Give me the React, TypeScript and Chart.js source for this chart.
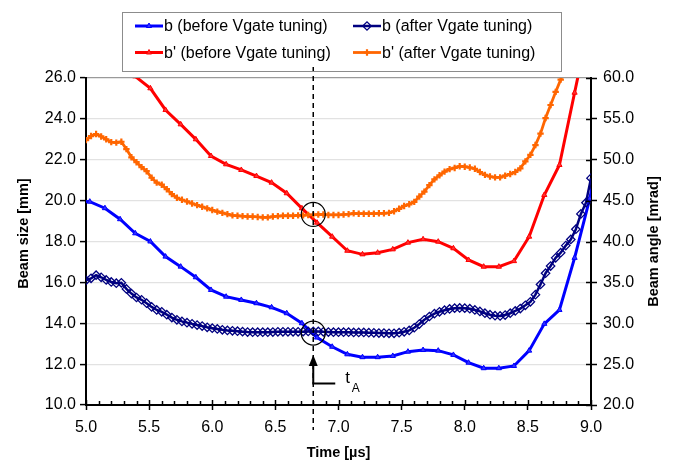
import React, { useEffect, useRef } from 'react';
import { Chart, registerables } from 'chart.js';
import { drawPoint } from 'chart.js/helpers';

Chart.register(...registerables);

// ---- data ----
const beforeTimes = [4.91, 5.03, 5.15, 5.27, 5.39, 5.51, 5.63, 5.75, 5.87, 5.99, 6.11, 6.23, 6.35, 6.47, 6.59, 6.71, 6.83, 6.95, 7.07, 7.19, 7.31, 7.43, 7.55, 7.67, 7.79, 7.91, 8.03, 8.15, 8.27, 8.39, 8.51, 8.63, 8.75, 8.87, 8.99, 9.11];
const bBefore = [20.0, 19.95, 19.63, 19.09, 18.4, 18.0, 17.26, 16.77, 16.25, 15.63, 15.3, 15.14, 14.98, 14.78, 14.49, 14.0, 13.3, 12.85, 12.48, 12.34, 12.34, 12.4, 12.61, 12.69, 12.66, 12.45, 12.07, 11.8, 11.8, 11.91, 12.66, 13.97, 14.65, 17.2, 20.1, 23.5];
const bpBefore = [72, 68, 65, 62, 60.2, 58.74, 56.09, 54.33, 52.5, 50.46, 49.44, 48.75, 48.01, 47.2, 45.9, 44.06, 42.3, 40.59, 38.87, 38.43, 38.63, 39.04, 39.86, 40.27, 39.98, 39.17, 37.74, 36.92, 36.92, 37.6, 40.59, 45.69, 49.36, 58.2, 67, 76];

const afterTimes = [5.00, 5.04, 5.08, 5.12, 5.16, 5.20, 5.24, 5.28, 5.32, 5.36, 5.40, 5.44, 5.48, 5.52, 5.56, 5.60, 5.64, 5.68, 5.72, 5.76, 5.80, 5.84, 5.88, 5.92, 5.96, 6.00, 6.04, 6.08, 6.12, 6.16, 6.20, 6.24, 6.28, 6.32, 6.36, 6.40, 6.44, 6.48, 6.52, 6.56, 6.60, 6.64, 6.68, 6.72, 6.76, 6.80, 6.84, 6.88, 6.92, 6.96, 7.00, 7.04, 7.08, 7.12, 7.16, 7.20, 7.24, 7.28, 7.32, 7.36, 7.40, 7.44, 7.48, 7.52, 7.56, 7.60, 7.64, 7.68, 7.72, 7.76, 7.80, 7.84, 7.88, 7.92, 7.96, 8.00, 8.04, 8.08, 8.12, 8.16, 8.20, 8.24, 8.28, 8.32, 8.36, 8.40, 8.44, 8.48, 8.52, 8.56, 8.60, 8.64, 8.68, 8.72, 8.76, 8.80, 8.84, 8.88, 8.92, 8.96, 9.00];
const bAfter = [
  16.1, 16.2, 16.35, 16.25, 16.12, 16.02, 15.96, 15.98, 15.68, 15.45,
  15.26, 15.15, 14.98, 14.8, 14.65, 14.56, 14.42, 14.28, 14.17, 14.09,
  14.03, 13.97, 13.91, 13.86, 13.8, 13.76, 13.72, 13.68, 13.65, 13.63,
  13.61, 13.59, 13.57, 13.56, 13.56, 13.56, 13.56, 13.57, 13.58, 13.58,
  13.58, 13.58, 13.58, 13.59, 13.6, 13.6, 13.6, 13.58, 13.57, 13.56,
  13.56, 13.56, 13.56, 13.55, 13.55, 13.55, 13.54, 13.53, 13.52, 13.52,
  13.51, 13.51, 13.54, 13.58, 13.65, 13.78, 13.96, 14.17, 14.33, 14.47,
  14.56, 14.64, 14.7, 14.74, 14.75, 14.74, 14.71, 14.65, 14.58, 14.49,
  14.42, 14.37, 14.36, 14.4, 14.49, 14.6, 14.72, 14.88, 15.05, 15.4,
  15.9, 16.45, 16.8, 17.2, 17.45, 17.8, 18.1, 18.6, 19.35, 19.9,
  21.1,
];
const bpAfter = [
  52.4, 52.9, 53.15, 52.85, 52.5, 52.15, 52.1, 52.2, 51.3, 50.3,
  49.7, 49.1, 48.6, 47.8, 47.2, 46.95, 46.4, 45.8, 45.35, 45.1,
  44.9, 44.65, 44.45, 44.25, 44.05, 43.85, 43.65, 43.5, 43.35, 43.2,
  43.15, 43.1, 43.05, 43.05, 43.0, 42.95, 42.95, 43.05, 43.1, 43.15,
  43.15, 43.15, 43.2, 43.2, 43.25, 43.25, 43.3, 43.3, 43.25, 43.25,
  43.25, 43.3, 43.35, 43.45, 43.4, 43.4, 43.4, 43.4, 43.45, 43.45,
  43.5, 43.7, 44.0, 44.35, 44.55, 44.85, 45.5, 46.1, 46.9, 47.6,
  48.1, 48.55, 48.85, 49.0, 49.2, 49.15, 49.05, 48.9, 48.5, 48.15,
  47.95, 47.85, 47.85, 48.05, 48.25, 48.5, 48.95, 49.8, 50.6, 51.8,
  53.2, 55.1, 56.7, 58.3, 59.8, 61.4, 63.0, 64.6, 66.2, 67.8,
  69.4,
];

const seriesLabels = ['b (before Vgate tuning)', 'b (after Vgate tuning)', "b' (before Vgate tuning)", "b' (after Vgate tuning)"];
const markTime = 6.8;
const circleValues = [19.33, 13.52]; // left-axis values of the two circled crossings
const xRange = [5.0, 9.0];
const yRange = [10.0, 26.0];
const y1Range = [20.0, 60.0];
const xTitle = 'Time [µs]';
const yTitle = 'Beam size [mm]';
const y1Title = 'Beam angle [mrad]';

const FONT = "'Liberation Sans', Arial, sans-serif";

const toXY = (xs: number[], ys: number[]) => xs.map((x, i) => ({ x, y: ys[i] }));

const overlayPlugin = {
  id: 'overlay',
  afterDraw(chart: any) {
    const ctx = chart.ctx as CanvasRenderingContext2D;
    const xs = chart.scales.x;
    const ys = chart.scales.y;
    const y1s = chart.scales.y1;
    const a = chart.chartArea;
    ctx.save();
    // minor & inward x ticks
    ctx.strokeStyle = '#000';
    ctx.lineWidth = 1.5;
    for (let i = 50; i <= 90; i++) {
      const px = Math.round(xs.getPixelForValue(i / 10)) + 0.5;
      const major = i % 5 === 0;
      ctx.beginPath();
      ctx.moveTo(px, a.bottom);
      ctx.lineTo(px, a.bottom - (major ? 5 : 4));
      ctx.stroke();
    }
    // inward right ticks
    for (let v = y1Range[0]; v <= y1Range[1]; v += 5) {
      const py = Math.round(y1s.getPixelForValue(v)) + 0.5;
      ctx.beginPath();
      ctx.moveTo(a.right, py);
      ctx.lineTo(a.right - 5, py);
      ctx.stroke();
    }
    // dashed vertical marker
    const mx = xs.getPixelForValue(markTime);
    ctx.setLineDash([5, 4]);
    ctx.lineWidth = 1.5;
    ctx.beginPath();
    ctx.moveTo(mx, 67);
    ctx.lineTo(mx, 430);
    ctx.stroke();
    ctx.setLineDash([]);
    // circles
    ctx.lineWidth = 1.2;
    for (const cv of circleValues) {
      ctx.beginPath();
      ctx.arc(mx, ys.getPixelForValue(cv), 12, 0, Math.PI * 2);
      ctx.stroke();
    }
    // arrow
    const aTop = ys.getPixelForValue(12.35);
    const aBot = ys.getPixelForValue(11.05);
    ctx.lineWidth = 2;
    ctx.beginPath();
    ctx.moveTo(mx, aTop + 6);
    ctx.lineTo(mx, aBot);
    ctx.lineTo(mx + 22, aBot);
    ctx.stroke();
    ctx.fillStyle = '#000';
    ctx.beginPath();
    ctx.moveTo(mx, aTop - 2);
    ctx.lineTo(mx - 4.5, aTop + 9);
    ctx.lineTo(mx + 4.5, aTop + 9);
    ctx.closePath();
    ctx.fill();
    // t_A label
    ctx.textAlign = 'left';
    ctx.textBaseline = 'alphabetic';
    ctx.font = `17px ${FONT}`;
    ctx.fillText('t', mx + 32, aBot - 1);
    ctx.font = `12px ${FONT}`;
    ctx.fillText('A', mx + 38.5, aBot + 8);

    // axis titles
    ctx.font = `bold 14.5px ${FONT}`;
    ctx.textAlign = 'center';
    ctx.textBaseline = 'middle';
    ctx.fillText(xTitle, (a.left + a.right) / 2, 453);
    ctx.save();
    ctx.translate(24, (a.top + a.bottom) / 2 - 8);
    ctx.rotate(-Math.PI / 2);
    ctx.fillText(yTitle, 0, 0);
    ctx.restore();
    ctx.save();
    ctx.translate(654, (a.top + a.bottom) / 2);
    ctx.rotate(-Math.PI / 2);
    ctx.fillText(y1Title, 0, 0);
    ctx.restore();

    // legend box
    ctx.strokeStyle = '#8c8c8c';
    ctx.lineWidth = 1;
    ctx.strokeRect(122.5, 12.5, 439, 59);
    const order = [0, 1, 2, 3];
    const cols = [135, 353];
    const rows = [26, 52.5];
    ctx.font = `16px ${FONT}`;
    ctx.textAlign = 'left';
    ctx.textBaseline = 'middle';
    order.forEach((di, k) => {
      const ds = chart.data.datasets[di];
      const lx = cols[k % 2];
      const ly = rows[Math.floor(k / 2)];
      ctx.strokeStyle = ds.borderColor;
      ctx.lineWidth = ds.borderWidth;
      ctx.beginPath();
      ctx.moveTo(lx, ly);
      ctx.lineTo(lx + 28, ly);
      ctx.stroke();
      ctx.fillStyle = ds.pointBackgroundColor;
      ctx.strokeStyle = ds.pointBorderColor;
      ctx.lineWidth = ds.pointBorderWidth;
      drawPoint(ctx, { pointStyle: ds.pointStyle, radius: ds.pointRadius, rotation: 0, borderWidth: ds.pointBorderWidth }, lx + 14, ly);
      ctx.fillStyle = '#000';
      ctx.fillText(ds.label, lx + 29, ly + 1);
    });
    ctx.restore();
  },
};

export default function App() {
  const ref = useRef<HTMLCanvasElement | null>(null);
  useEffect(() => {
    if (!ref.current) return;
    Chart.defaults.font.family = FONT;
    const chart = new Chart(ref.current, {
      type: 'line',
      data: {
        datasets: [
          {
            label: seriesLabels[0],
            data: toXY(beforeTimes, bBefore),
            yAxisID: 'y',
            borderColor: '#0000FF',
            borderWidth: 3,
            pointStyle: 'triangle',
            pointRadius: 3,
            pointBackgroundColor: '#3333FF',
            pointBorderColor: '#0000FF',
            pointBorderWidth: 1,
            order: 3,
          },
          {
            label: seriesLabels[1],
            data: toXY(afterTimes, bAfter),
            yAxisID: 'y',
            borderColor: '#000080',
            borderWidth: 2.5,
            pointStyle: 'rectRot',
            pointRadius: 4.2,
            pointBackgroundColor: 'rgba(255,255,255,0)',
            pointBorderColor: '#000080',
            pointBorderWidth: 1.3,
            order: 2,
          },
          {
            label: seriesLabels[2],
            data: toXY(beforeTimes, bpBefore),
            yAxisID: 'y1',
            borderColor: '#FF0000',
            borderWidth: 3,
            pointStyle: 'triangle',
            pointRadius: 3,
            pointBackgroundColor: '#FF3333',
            pointBorderColor: '#FF0000',
            pointBorderWidth: 1,
            order: 4,
          },
          {
            label: seriesLabels[3],
            data: toXY(afterTimes, bpAfter),
            yAxisID: 'y1',
            borderColor: '#FF6600',
            borderWidth: 2.8,
            pointStyle: 'cross',
            pointRadius: 3.2,
            pointBackgroundColor: '#FF6600',
            pointBorderColor: '#FF6600',
            pointBorderWidth: 2.2,
            order: 1,
          },
        ],
      },
      options: {
        responsive: false,
        animation: false,
        devicePixelRatio: 1,
        layout: { padding: { top: 78, left: 0, right: 0, bottom: 0 } },
        plugins: { legend: { display: false }, tooltip: { enabled: false } },
        scales: {
          x: {
            type: 'linear',
            min: xRange[0],
            max: xRange[1],
            afterFit: (s: any) => { s.height = 59; },
            ticks: {
              stepSize: 0.5,
              autoSkip: false,
              maxRotation: 0,
              padding: 8,
              color: '#000',
              font: { size: 16 },
              callback: (v: any) => Number(v).toFixed(1),
            },
            grid: { drawOnChartArea: false, drawTicks: true, tickLength: 5, tickColor: '#000', tickWidth: 1.5 },
            border: { display: true, color: '#000', width: 2 },
          },
          y: {
            type: 'linear',
            position: 'left',
            min: yRange[0],
            max: yRange[1],
            afterFit: (s: any) => { s.width = 86; },
            ticks: {
              stepSize: 2,
              padding: 4,
              color: '#000',
              font: { size: 16 },
              callback: (v: any) => Number(v).toFixed(1),
            },
            grid: {
              color: (c: any) => (c.tick && c.tick.value === yRange[1] ? '#9a9a9a' : '#e2e2e2'),
              lineWidth: 1.2,
              tickLength: 6,
              tickColor: '#000',
              tickWidth: 1.5,
            },
            border: { display: true, color: '#000', width: 2 },
          },
          y1: {
            type: 'linear',
            position: 'right',
            min: y1Range[0],
            max: y1Range[1],
            afterFit: (s: any) => { s.width = 97; },
            ticks: {
              stepSize: 5,
              padding: 6,
              color: '#000',
              font: { size: 16 },
              callback: (v: any) => Number(v).toFixed(1),
            },
            grid: { drawOnChartArea: false, tickLength: 6, tickColor: '#000', tickWidth: 1.5 },
            border: { display: true, color: '#000', width: 2 },
          },
        },
      },
      plugins: [overlayPlugin],
    } as any);
    return () => chart.destroy();
  }, []);
  return (
    <div style={{ position: 'fixed', left: 0, top: 0, width: 688, height: 464, background: '#fff' }}>
      <canvas ref={ref} width={688} height={464} />
    </div>
  );
}
